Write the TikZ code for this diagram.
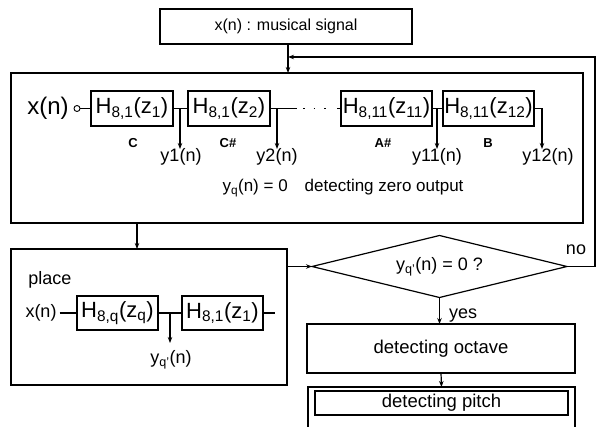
\documentclass[tikz,border=0pt]{standalone}
\usepackage{fontspec}
\setmainfont{Liberation Sans}
\usetikzlibrary{arrows.meta,shapes.geometric}
\newcommand{\sz}[1]{\fontsize{#1}{#1}\selectfont}
\begin{document}
\begin{tikzpicture}[x=1pt,y=-1pt,
  line width=1.2pt,
  every node/.style={inner sep=0pt, outer sep=0pt},
  arr/.style={-{Stealth[length=6pt,width=4.5pt]}},
  frame/.style={draw, rectangle},
  filt/.style={draw, rectangle, minimum height=35pt, font=\sz{22}},
  lbl/.style={font=\sz{18}},
  note/.style={font=\sz{13}\bfseries},
]
\clip (0,0) rectangle (599,427);
\fill[white] (0,0) rectangle (599,427);

% top box
\node[frame, minimum width=252pt, minimum height=35pt, font=\sz{16}] (src) at (286,26.5) {x(n) : musical signal};

% big box
\node[frame, minimum width=572pt, minimum height=150pt] (big) at (297,148) {};
\node[font=\sz{24}] (xin) at (48,108.5) {x(n)};
\node[draw, circle, minimum size=6pt, line width=0.9pt] (c0) at (77,108.5) {};
\node[filt, minimum width=82pt] (f1) at (132,108.5) {H\textsubscript{8,1}(z\textsubscript{1})};
\node[filt, minimum width=82pt] (f2) at (229,108.5) {H\textsubscript{8,1}(z\textsubscript{2})};
\node[filt, minimum width=91pt] (f11) at (386.5,108.5) {H\textsubscript{8,11}(z\textsubscript{11})};
\node[filt, minimum width=91pt] (f12) at (488.5,108.5) {H\textsubscript{8,11}(z\textsubscript{12})};

\coordinate (b1) at (180,108.5);
\coordinate (b2) at (277,108.5);
\coordinate (b11) at (437,108.5);
\coordinate (b12) at (542,108.5);
\coordinate (d1) at (297,108.5);
\coordinate (d2) at (337,108.5);

\draw (c0) -- (f1);
\draw (f1) -- (f2);
\draw (f2.east) -- (d1);
\draw[line width=1.5pt, dash pattern=on 1.5pt off 9pt] (303,108.5) -- (334,108.5);
\draw (d2) -- (f11.west);
\draw (f11) -- (f12);
\draw (f12.east) -- (b12);

\node[lbl] (y1) at (181,157) {y1(n)};
\node[lbl] (y2) at (277,157) {y2(n)};
\node[lbl] (y11) at (437,157) {y11(n)};
\node[lbl] (y12) at (548,157) {y12(n)};
\draw[arr] (b1) -- (180,149);
\draw[arr] (b2) -- (277,149);
\draw[arr] (b11) -- (437,149);
\draw[arr] (b12) -- (542,149);

\node[note] (nC) at (133,143) {C};
\node[note] (nCs) at (228,143) {C\#};
\node[note] (nAs) at (383,143) {A\#};
\node[note] (nB) at (488,143) {B};

\node[font=\sz{17}] (zero) at (343,188) {y\textsubscript{q}(n) = 0\quad detecting zero output};

% feed from top
\coordinate (jn) at (288,57);
\draw[arr] (src.south -| jn) -- (big.north -| jn);

% place box
\node[frame, minimum width=276pt, minimum height=136pt] (place) at (149,317) {};
\draw[arr] (big.south -| 137,0) -- (place.north -| 137,0);
\node[lbl] (plc) at (50,280) {place};
\node[lbl] (px) at (41,313) {x(n)};
\node[filt, minimum width=81pt, minimum height=34pt] (pq) at (117.5,313) {H\textsubscript{8,q}(z\textsubscript{q})};
\node[filt, minimum width=81pt, minimum height=34pt] (p1) at (222.5,313) {H\textsubscript{8,1}(z\textsubscript{1})};
\coordinate (pb) at (170,313);
\coordinate (pend) at (275,313);
\draw (px.east) ++(3,0) -- (pq.west);
\draw (pq) -- (p1);
\draw (p1.east) -- (pend);
\draw[arr] (pb) -- (170,343);
\node[lbl] (yqp) at (171,360) {y\textsubscript{q'}(n)};

% diamond
\node[draw, diamond, aspect=4, minimum width=255pt, minimum height=62pt, font=\sz{18}] (dec) at (439.5,266.5) {y\textsubscript{q'}(n) = 0 ?};
\draw[arr] (place.east |- dec.west) -- (dec.west);
\coordinate (rc) at (595,266.5);
\draw[arr] (dec.east) -- (rc) -- (595,57) -- (jn);
\node[lbl] (no) at (576,250) {no};

% octave
\node[frame, minimum width=268pt, minimum height=49pt, font=\sz{18.5}] (oct) at (441,348.5) {detecting octave};
\draw[arr] (dec.south) -- (oct.north -| dec.south);
\node[lbl, anchor=west] (yes) at (449,316) {yes};

% pitch
\node[frame, minimum width=267pt, minimum height=50pt] (pout) at (441.5,412) {};
\node[frame, minimum width=253pt, minimum height=24pt, font=\sz{18.5}] (pin) at (441.5,403) {detecting pitch};
\draw[arr] (oct.south) -- (pout.north);
\end{tikzpicture}
\end{document}
